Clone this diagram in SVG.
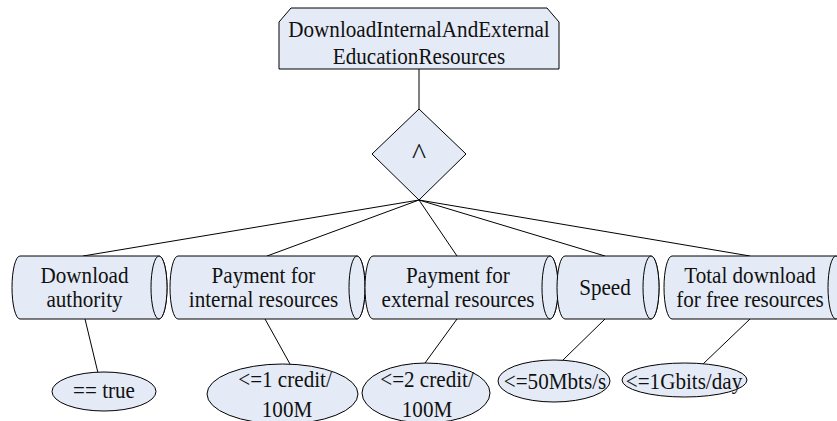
<svg xmlns="http://www.w3.org/2000/svg" width="837" height="421" viewBox="0 0 837 421" font-family="'Liberation Serif', Tinos, 'Times New Roman', 'DejaVu Serif', serif">
<style>
.shape{fill:#E5EBF6;stroke:#000;stroke-width:1}
.edge{fill:none;stroke:#000;stroke-width:1}
text{font-family:'Liberation Serif', Tinos, 'Times New Roman', 'DejaVu Serif', serif;font-size:24px;fill:#111;text-anchor:middle}
</style>
<rect width="837" height="421" fill="#fff"/>
<g id="connectors">
<line class="edge" x1="419" y1="69" x2="419" y2="109"/>
<line class="edge" x1="419" y1="200" x2="83" y2="256"/>
<line class="edge" x1="419" y1="200" x2="267" y2="256"/>
<line class="edge" x1="419" y1="200" x2="457" y2="256"/>
<line class="edge" x1="419" y1="200" x2="605" y2="256"/>
<line class="edge" x1="419" y1="200" x2="750" y2="256"/>
<line class="edge" x1="85" y1="319" x2="98" y2="373"/>
<line class="edge" x1="265" y1="319" x2="290" y2="364"/>
<line class="edge" x1="457" y1="319" x2="425" y2="363"/>
<line class="edge" x1="605" y1="319" x2="563" y2="360"/>
<line class="edge" x1="750" y1="319" x2="703" y2="364"/>
</g>
<g id="root">
<path class="shape" d="M279 69 L279 22 L291 8 L547 8 L559 22 L559 69 Z"/>
<text transform="matrix(0.88 0 0 1 419 37)">DownloadInternalAndExternal</text>
<text transform="matrix(0.88 0 0 1 419 64)">EducationResources</text>
</g>
<g id="and">
<polygon class="shape" points="419,109 466,154 419,200 372,154"/>
<text style="font-size:30px" x="419" y="164">^</text>
</g>
<g id="c1">
<path class="shape" d="M20 256 L159 256 A8 31.5 0 0 1 159 319 L20 319 A8 31.5 0 0 1 20 256 Z"/>
<ellipse class="shape" cx="159" cy="287.5" rx="8" ry="31.5"/>
<text transform="matrix(0.88 0 0 1 84.5 283)">Download</text>
<text transform="matrix(0.88 0 0 1 84.5 307)">authority</text>
</g>
<g id="c2">
<path class="shape" d="M178 256 L357 256 A8 31.5 0 0 1 357 319 L178 319 A8 31.5 0 0 1 178 256 Z"/>
<ellipse class="shape" cx="357" cy="287.5" rx="8" ry="31.5"/>
<text transform="matrix(0.88 0 0 1 263.5 283)">Payment for</text>
<text transform="matrix(0.88 0 0 1 263.5 307)">internal resources</text>
</g>
<g id="c3">
<path class="shape" d="M373 256 L550 256 A8 31.5 0 0 1 550 319 L373 319 A8 31.5 0 0 1 373 256 Z"/>
<ellipse class="shape" cx="550" cy="287.5" rx="8" ry="31.5"/>
<text transform="matrix(0.88 0 0 1 458 283)">Payment for</text>
<text transform="matrix(0.88 0 0 1 458 307)">external resources</text>
</g>
<g id="c4">
<path class="shape" d="M565 256 L651 256 A8 31.5 0 0 1 651 319 L565 319 A8 31.5 0 0 1 565 256 Z"/>
<ellipse class="shape" cx="651" cy="287.5" rx="8" ry="31.5"/>
<text transform="matrix(0.88 0 0 1 605 295)">Speed</text>
</g>
<g id="c5">
<path class="shape" d="M672 256 L836 256 A8 31.5 0 0 1 836 319 L672 319 A8 31.5 0 0 1 672 256 Z"/>
<ellipse class="shape" cx="836" cy="287.5" rx="8" ry="31.5"/>
<text transform="matrix(0.88 0 0 1 750 283)">Total download</text>
<text transform="matrix(0.88 0 0 1 750 307)">for free resources</text>
</g>
<g id="v1">
<ellipse class="shape" cx="104" cy="391.5" rx="52" ry="19.5"/>
<text transform="matrix(0.88 0 0 1 104 398)">== true</text>
</g>
<g id="v2">
<ellipse class="shape" cx="282.5" cy="394" rx="75.5" ry="30"/>
<text transform="matrix(0.88 0 0 1 285 387)">&lt;=1 credit/</text>
<text transform="matrix(0.88 0 0 1 287 417)">100M</text>
</g>
<g id="v3">
<ellipse class="shape" cx="426" cy="393" rx="64" ry="30"/>
<text transform="matrix(0.88 0 0 1 427 387)">&lt;=2 credit/</text>
<text transform="matrix(0.88 0 0 1 427 417)">100M</text>
</g>
<g id="v4">
<ellipse class="shape" cx="554" cy="381" rx="56" ry="21"/>
<text transform="matrix(0.88 0 0 1 555 389)">&lt;=50Mbts/s</text>
</g>
<g id="v5">
<ellipse class="shape" cx="684.5" cy="380" rx="62.5" ry="17"/>
<text transform="matrix(0.88 0 0 1 684 389)">&lt;=1Gbits/day</text>
</g>
</svg>
